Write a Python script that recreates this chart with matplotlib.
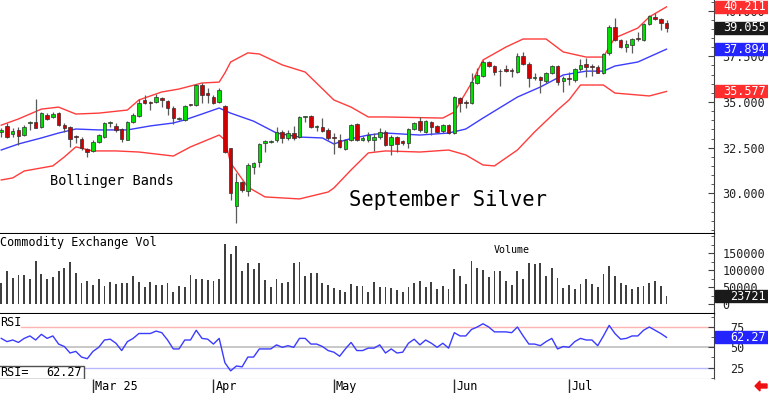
import matplotlib
matplotlib.use("Agg")
import numpy as np
import matplotlib.pyplot as plt
from matplotlib.ticker import MultipleLocator, FixedLocator, FuncFormatter
from matplotlib.patches import Rectangle, Polygon

# September silver, daily sessions (index 0 .. 116)
opens = [33.38, 33.68, 33.25, 33.47, 33.19, 33.85, 33.90, 33.63, 34.28, 34.18,
         34.39, 33.74, 33.63, 33.14, 32.97, 32.43, 32.32, 32.81, 33.08, 33.87,
         33.68, 33.52, 32.92, 33.90, 34.23, 35.11, 35.00, 35.00, 35.22, 35.05,
         34.67, 34.07, 34.02, 34.86, 34.83, 35.93, 35.49, 35.27, 35.00, 34.78,
         32.48, 29.30, 30.61, 30.13, 31.44, 31.71, 32.75, 32.81, 32.92, 33.36,
         33.03, 33.30, 33.08, 34.16, 34.23, 33.63, 33.63, 33.47, 33.08, 32.92,
         32.43, 32.92, 33.80, 32.92, 32.92, 32.92, 33.08, 33.36, 32.65, 33.08,
         32.86, 32.75, 33.52, 33.96, 33.36, 33.90, 33.68, 33.41, 33.74, 33.30,
         35.22, 35.00, 34.94, 36.04, 36.42, 37.19, 36.97, 36.67, 36.78, 36.75,
         36.64, 37.52, 37.08, 36.34, 36.37, 36.15, 36.58, 36.97, 36.15, 36.31,
         36.20, 36.80, 37.08, 36.97, 36.91, 36.58, 37.68, 39.11, 38.40, 38.02,
         38.13, 38.47, 38.40, 39.27, 39.66, 39.55, 39.33]
highs = [33.57, 33.85, 33.57, 33.63, 33.74, 33.96, 35.17, 34.45, 34.40, 34.45,
         34.45, 33.85, 33.70, 33.19, 33.08, 32.48, 32.92, 33.25, 33.90, 33.96,
         33.85, 33.58, 33.96, 34.39, 35.17, 35.38, 35.05, 35.44, 35.27, 35.11,
         34.78, 34.16, 34.83, 34.90, 35.98, 36.04, 35.76, 35.38, 35.76, 34.83,
         32.48, 31.10, 30.67, 31.66, 31.71, 32.75, 32.92, 32.92, 33.63, 33.47,
         33.47, 33.68, 34.23, 34.23, 34.28, 33.74, 34.12, 33.58, 33.30, 33.25,
         32.97, 33.80, 33.85, 33.14, 33.36, 33.30, 33.58, 33.47, 33.19, 33.14,
         32.92, 33.58, 33.90, 34.18, 34.02, 33.96, 33.74, 33.80, 33.80, 35.33,
         35.27, 35.11, 36.58, 36.86, 37.30, 37.24, 37.02, 36.80, 37.02, 36.86,
         37.68, 37.74, 37.19, 36.58, 36.42, 36.64, 37.02, 37.02, 36.42, 36.64,
         36.86, 37.35, 37.41, 37.08, 37.02, 37.68, 39.22, 39.60, 38.45, 38.40,
         38.51, 38.84, 39.33, 39.76, 39.87, 39.60, 39.49]
lows = [33.08, 33.03, 33.08, 32.65, 33.14, 33.47, 33.55, 33.60, 34.00, 34.12,
        33.70, 33.36, 32.54, 32.75, 32.37, 31.99, 32.26, 32.75, 33.03, 33.63,
        33.36, 32.81, 32.90, 33.85, 34.18, 34.88, 34.56, 34.94, 34.72, 34.28,
        33.80, 34.02, 33.96, 34.78, 34.78, 34.94, 34.94, 34.88, 34.94, 32.20,
        29.64, 28.37, 30.07, 29.85, 31.06, 31.44, 32.26, 32.75, 32.81, 32.75,
        32.92, 32.92, 33.03, 33.90, 33.58, 33.41, 33.36, 32.92, 32.15, 32.48,
        32.37, 32.86, 32.86, 32.86, 32.81, 32.32, 32.97, 32.59, 32.10, 32.26,
        32.65, 32.48, 33.47, 33.36, 33.30, 33.19, 33.30, 33.30, 33.25, 33.25,
        34.45, 34.67, 34.88, 35.98, 36.36, 36.91, 36.47, 35.87, 36.64, 36.36,
        36.58, 37.02, 35.82, 36.20, 35.49, 36.04, 36.53, 35.93, 35.55, 35.93,
        36.09, 36.69, 36.37, 36.42, 36.58, 36.53, 37.57, 38.35, 37.96, 37.74,
        37.68, 38.35, 38.35, 39.22, 39.49, 38.94, 38.84]
closes = [33.44, 33.08, 33.41, 33.14, 33.63, 33.90, 33.58, 34.39, 34.07, 34.34,
          33.74, 33.58, 32.97, 33.08, 32.48, 32.26, 32.81, 33.19, 33.85, 33.90,
          33.47, 32.97, 33.90, 34.28, 34.94, 34.94, 34.97, 35.27, 35.11, 34.67,
          34.12, 34.12, 34.78, 34.83, 35.93, 35.38, 35.38, 34.94, 35.66, 32.26,
          30.02, 30.61, 30.18, 31.55, 31.66, 32.70, 32.86, 32.86, 33.36, 33.03,
          33.30, 33.03, 34.18, 34.20, 33.63, 33.68, 33.41, 33.03, 33.03, 32.54,
          32.92, 33.74, 32.92, 33.03, 33.19, 33.08, 33.36, 32.65, 33.08, 32.70,
          32.75, 33.52, 33.85, 33.47, 33.96, 33.63, 33.36, 33.74, 33.30, 35.27,
          34.94, 34.94, 36.09, 36.47, 37.19, 36.97, 36.64, 36.72, 36.72, 36.69,
          37.52, 37.08, 36.31, 36.37, 36.20, 36.58, 36.97, 36.09, 36.31, 36.26,
          36.80, 37.02, 36.91, 36.91, 36.58, 37.63, 39.11, 38.40, 38.02, 38.18,
          38.45, 38.43, 39.27, 39.71, 39.55, 39.33, 39.055]

volume = [62, 98, 77, 88, 88, 75, 128, 89, 75, 82,
          97, 106, 124, 91, 62, 69, 57, 74, 54, 67,
          61, 64, 64, 84, 67, 51, 67, 57, 57, 62,
          38, 54, 51, 88, 75, 75, 72, 70, 75, 178,
          147, 172, 97, 121, 103, 121, 72, 51, 74, 64,
          67, 121, 124, 85, 91, 91, 62, 57, 47, 42,
          38, 61, 54, 54, 38, 66, 52, 51, 47, 42,
          38, 52, 64, 70, 51, 67, 44, 54, 44, 103,
          85, 61, 128, 106, 101, 82, 97, 97, 70, 57,
          98, 74, 121, 119, 121, 84, 106, 77, 47, 57,
          44, 61, 74, 61, 51, 89, 113, 85, 62, 57,
          44, 51, 54, 64, 69, 54, 23.721]
volume = [v * 1000 for v in volume]

rsi = [61, 57, 59, 56, 61, 64, 59, 66, 61, 64,
       54, 51, 43, 45, 38, 36, 45, 50, 59, 60,
       55, 46, 57, 61, 67, 67, 67, 70, 68, 59,
       48, 48, 59, 59, 71, 61, 60, 54, 61, 31,
       21, 27, 26, 38, 38, 48, 48, 48, 53, 50,
       52, 50, 61, 61, 54, 54, 51, 46, 44, 39,
       48, 56, 46, 46, 49, 49, 53, 43, 48, 43,
       44, 55, 60, 53, 59, 55, 50, 55, 49, 68,
       64, 64, 72, 75, 79, 75, 69, 69, 69, 68,
       75, 64, 54, 54, 52, 57, 61, 48, 51, 50,
       57, 61, 59, 59, 52, 64, 77, 67, 60, 61,
       64, 64, 71, 75, 71, 67, 62.27]

# bollinger bands at these sessions
upper_idx = [0, 3, 7, 10, 13, 17, 22, 24, 28, 31, 35, 38, 39, 40, 43, 45, 49, 53,
             58, 61, 64, 67, 77, 79, 82, 84, 88, 91, 95, 98, 102, 105, 106, 107,
             111, 113, 116]
upper = [33.73, 34.07, 34.61, 34.72, 34.34, 34.39, 34.56, 35.11, 35.55, 35.71,
         36.04, 36.09, 36.59, 37.19, 37.69, 37.63, 37.03, 36.64, 35.11, 34.72,
         34.18, 34.18, 34.12, 34.45, 36.04, 37.30, 38.01, 38.45, 38.45, 37.74,
         37.46, 37.46, 38.01, 38.51, 39.05, 39.66, 40.211]
mid_idx = [0, 3, 7, 10, 13, 17, 22, 26, 30, 32, 35, 38, 40, 44, 48, 52, 56, 58,
           60, 64, 67, 73, 78, 81, 84, 90, 94, 98, 102, 105, 107, 111, 116]
mid = [32.37, 32.70, 33.03, 33.30, 33.52, 33.47, 33.47, 33.69, 33.85, 34.02,
       34.34, 34.67, 34.39, 33.95, 33.30, 33.08, 33.03, 32.70, 32.92, 33.19,
       33.30, 33.19, 33.30, 33.52, 34.12, 35.27, 35.82, 36.48, 36.69, 36.69,
       36.97, 37.19, 37.894]
lower_idx = [0, 2, 4, 9, 11, 13, 16, 20, 24, 30, 33, 38, 39, 40, 43, 46, 52, 57,
             58, 61, 64, 67, 73, 78, 81, 84, 86, 90, 93, 97, 99, 101, 105, 107,
             113, 116]
lower = [30.73, 30.84, 31.22, 31.50, 31.99, 32.54, 32.32, 32.32, 32.26, 32.04,
         32.54, 33.19, 32.92, 31.66, 30.34, 29.80, 29.69, 30.07, 30.29, 31.28,
         32.21, 32.32, 32.26, 32.37, 32.10, 31.55, 31.50, 32.37, 33.36, 34.56,
         35.11, 35.93, 35.93, 35.49, 35.33, 35.577]

month_idx = [16, 37, 58, 79, 99]
month_labels = ["Mar 25", "Apr", "May", "Jun", "Jul"]

MONO = "DejaVu Sans Mono"
W, H = 768, 393
AX_R = 714 / W
XLIM = (-0.216, 124.28)

fig = plt.figure(figsize=(W / 100, H / 100), dpi=100)


def panel(top_px, bot_px):
    a = fig.add_axes([0, 1 - bot_px / H, AX_R, (bot_px - top_px) / H])
    a.set_xlim(*XLIM)
    a.set_xticks([])
    a.spines["left"].set_visible(False)
    a.spines["top"].set_visible(False)
    a.spines["right"].set_color("#404040")
    a.spines["bottom"].set_visible(False)
    a.yaxis.tick_right()
    a.tick_params(axis="y", which="both", direction="in", colors="#404040",
                  labelcolor="#222222", labelsize=8.5, labelfontfamily=MONO, pad=6)
    a.tick_params(axis="y", which="major", length=4)
    a.tick_params(axis="y", which="minor", length=2.5)
    return a


ax = panel(0, 234)
axv = panel(234, 314)
axr = panel(314, 379)
axd = panel(379, 393)

idx = np.arange(len(closes))

# price panel
ax.set_ylim(27.77, 40.586)
ax.spines["bottom"].set_visible(True)
ax.spines["bottom"].set_color("black")
ax.spines["bottom"].set_linewidth(1.5)
ax.plot(upper_idx, upper, color="#ff3c3c", lw=1, zorder=1)
ax.plot(lower_idx, lower, color="#ff3c3c", lw=1, zorder=1)
ax.plot(mid_idx, mid, color="#3c3cff", lw=1, zorder=1)
o = np.array(opens)
c = np.array(closes)
ax.vlines(idx, lows, highs, color="#5a5a5a", lw=0.9, zorder=2)
cols = ["#00dd00" if cc >= oo else "#d00000" for oo, cc in zip(o, c)]
ax.bar(idx, np.maximum(np.abs(c - o), 0.05), bottom=np.minimum(o, c), width=0.62,
       color=cols, edgecolor="#303030", linewidth=0.5, zorder=3)
ax.yaxis.set_major_locator(FixedLocator([30, 32.5, 35, 37.5, 40]))
ax.yaxis.set_minor_locator(MultipleLocator(0.5))
ax.yaxis.set_major_formatter(FuncFormatter(lambda v, p: "%.3f" % v))
ax.text(50 / 714, 1 - 181 / 234, "Bollinger Bands", transform=ax.transAxes,
        family=MONO, fontsize=9.8, va="center", ha="left")
ax.text(349 / 714, 1 - 199.5 / 234, "September Silver", transform=ax.transAxes,
        family=MONO, fontsize=14.8, va="center", ha="left")

# volume panel
axv.set_ylim(-28000, 207000)
axv.spines["bottom"].set_visible(True)
axv.spines["bottom"].set_color("black")
axv.spines["bottom"].set_linewidth(1.5)
axv.bar(idx, volume, width=0.32, color="#404040")
axv.yaxis.set_major_locator(FixedLocator([0, 50000, 100000, 150000]))
axv.yaxis.set_minor_locator(MultipleLocator(25000))
axv.yaxis.set_major_formatter(FuncFormatter(lambda v, p: "%d" % v))
axv.text(0.0, 0.9, "Commodity Exchange Vol", transform=axv.transAxes,
         family=MONO, fontsize=8.5, va="center", ha="left")
axv.text(512 / 714, 0.8, "Volume", transform=axv.transAxes,
         family=MONO, fontsize=7.2, va="center", ha="center")

# rsi panel
axr.set_ylim(11, 91)
axr.spines["bottom"].set_visible(True)
axr.spines["bottom"].set_color("#a0a0a0")
axr.axhline(75, xmin=21 / 714, color="#ffb4b4", lw=1, zorder=1)
axr.axhline(50, color="#c4c4c4", lw=1.3, zorder=1)
axr.axhline(25, color="#b8b8ff", lw=1, zorder=1)
axr.plot(idx, rsi, color="#3b3bff", lw=1, zorder=2)
axr.yaxis.set_major_locator(FixedLocator([25, 50, 75]))
axr.yaxis.set_minor_locator(MultipleLocator(12.5))
axr.tick_params(axis="y", which="major", pad=11.5)
axr.text(0.0, 1 - 8 / 65, "RSI", transform=axr.transAxes,
         family=MONO, fontsize=8.5, va="center", ha="left")
axr.add_patch(Rectangle((-0.01, 0), 84 / 714 + 0.01, 13 / 65, transform=axr.transAxes,
                        facecolor="white", edgecolor="#505050", lw=1, zorder=4,
                        clip_on=False))
axr.text(0.0, 6.5 / 65, "RSI=", transform=axr.transAxes, family=MONO,
         fontsize=8.5, va="center", ha="left", zorder=5)
axr.text(82 / 714, 6.5 / 65, "%.2f" % rsi[-1], transform=axr.transAxes,
         family=MONO, fontsize=8.5, va="center", ha="right", zorder=5)

# date strip
axd.set_ylim(0, 1)
axd.set_yticks([])
axd.spines["right"].set_visible(False)
axd.vlines(month_idx, 0, 1, color="#303030", lw=1)
for m, lab in zip(month_idx, month_labels):
    axd.text(m + 0.35, 0.45, lab, family=MONO, fontsize=8.5, va="center", ha="left")


# last-value boxes on the right scale
def value_box(a, value, label, color):
    yf = a.transData.transform((0, value))[1] / fig.bbox.height
    hf = 12 / H
    fig.add_artist(Rectangle((AX_R + 0.5 / W, yf - hf / 2), 1 - AX_R, hf,
                             transform=fig.transFigure, color=color, zorder=5))
    fig.text(766 / W, yf, label, color="white", ha="right", va="center",
             family=MONO, fontsize=8.5, zorder=6)


value_box(ax, upper[-1], "%.3f" % upper[-1], "#ff2e2e")
value_box(ax, closes[-1], "%.3f" % closes[-1], "#1a1a1a")
value_box(ax, mid[-1], "%.3f" % mid[-1], "#2424ff")
value_box(ax, lower[-1], "%.3f" % lower[-1], "#ff2e2e")
value_box(axv, volume[-1], "%d" % round(volume[-1]), "#1a1a1a")
value_box(axr, rsi[-1], "%.2f" % rsi[-1], "#2424ff")

# little red arrow, bottom right
arrow = [(755, 386), (760, 381), (760, 384), (767, 384), (767, 388), (760, 388), (760, 391)]
fig.add_artist(Polygon([(px / W, 1 - py / H) for px, py in arrow], closed=True,
                       transform=fig.transFigure, color="#ee1111", zorder=6))

fig.savefig("out.png", dpi=100)
